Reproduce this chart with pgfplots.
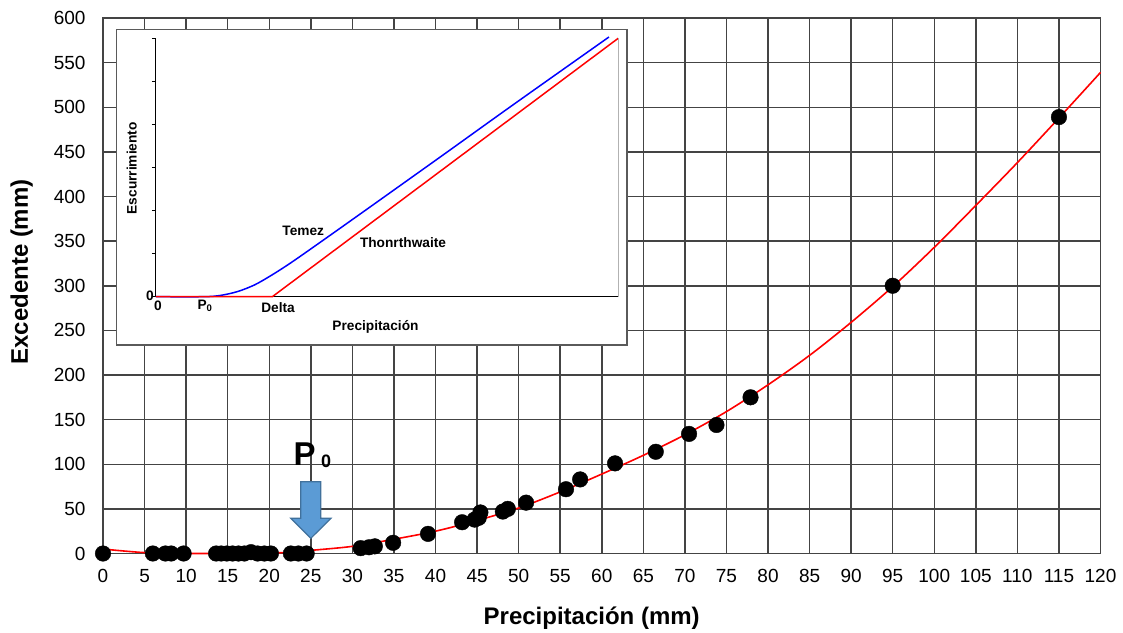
\documentclass[border=0pt]{standalone}
\usepackage{pgfplots}
\pgfplotsset{compat=1.18}
\usepackage{fontspec}
\setmainfont{Liberation Sans}
\definecolor{gridc}{RGB}{68,68,68}
\definecolor{arrfill}{RGB}{91,155,213}
\definecolor{arrdraw}{RGB}{65,113,156}
\definecolor{insetb}{RGB}{90,90,90}

\pgfplotstableread{
x y
0 0
6.0 0
7.5 0
8.2 0
9.7 0
13.6 0
14.2 0
14.9 0
15.6 0
16.3 0
17.0 0
17.8 1.5
18.6 0
19.4 0
20.2 0
22.6 0
23.5 0
24.5 0
31.0 6
32.0 7
32.7 8
34.9 12
39.1 22
43.2 35
44.7 38
45.2 40
45.4 46
48.1 47
48.7 50
50.9 57
55.7 72
57.4 83
61.6 101
66.5 114
70.5 134
73.8 144
77.9 175
95.0 300
115.0 489
}\obsdata

\pgfplotstableread{
x y
0 5
2.5 2.8
5 1.0
7.5 0.3
10 0
15 0
20 0.4
22.5 1.5
25 3.5
30 8
35 16
40 25
45 37
50 51
55 69
60 89
65 110
70 133
75 159
80 189
85 222
90 259
95 299
100 343
105 390
110 438
115 488
120 539
}\fitdata

\begin{document}
\begin{tikzpicture}
\useasboundingbox (0,0) rectangle (1123pt,632pt);
\begin{axis}[
  at={(103pt,78.5pt)}, anchor=south west,
  scale only axis, width=997.5pt, height=535.5pt,
  xmin=0, xmax=120, ymin=0, ymax=600,
  xtick={0,5,...,120}, ytick={0,50,...,600},
  grid=major,
  major grid style={line width=1.5pt, color=gridc},
  axis line style={line width=1.5pt, color=gridc},
  tick style={draw=none},
  ticklabel style={font=\fontsize{19}{19}\selectfont},
  /pgf/number format/assume math mode=true,
  xticklabel style={yshift=-12pt},
  yticklabel style={xshift=-14pt},
  clip=false,
]
\addplot[only marks, mark=*, mark size=7.8pt, black] table[x=x,y=y] {\obsdata};
\addplot[red, line width=1.6pt, smooth, tension=0.5] table[x=x,y=y] {\fitdata};
\end{axis}

% axis titles
\node[font=\bfseries\fontsize{24}{24}\selectfont] at (591.7pt,14pt) {Precipitación (mm)};
\node[rotate=90, font=\bfseries\fontsize{24}{24}\selectfont] at (21.7pt,360pt) {Excedente (mm)};

% P0 arrow
\draw[fill=arrfill, draw=arrdraw, line width=1.2pt]
  (300.7pt,150.3pt) -- (320.7pt,150.3pt) -- (320.7pt,113.7pt) -- (331pt,113.7pt)
  -- (310.8pt,93.7pt) -- (290.7pt,113.7pt) -- (300.7pt,113.7pt) -- cycle;
\node[anchor=base west, inner sep=0pt, font=\bfseries\fontsize{33}{33}\selectfont] at (293.5pt,167pt) {P};
\node[anchor=base west, inner sep=0pt, font=\bfseries\fontsize{18}{18}\selectfont] at (321pt,165pt) {0};

% inset
\draw[fill=white, draw=insetb, line width=1.5pt] (116.5pt,287pt) rectangle (626.9pt,602.7pt);
\begin{axis}[
  at={(155.8pt,335.3pt)}, anchor=south west,
  scale only axis, width=462.4pt, height=258.4pt,
  xmin=0, xmax=100, ymin=0, ymax=100,
  axis x line*=bottom, axis y line*=left,
  axis line style={line width=1.2pt, black, -},
  xtick=\empty,
  ytick={0,16.667,33.333,50,66.667,83.333,100},
  yticklabels={},
  tick align=outside, major tick length=4pt,
  y tick style={line width=1pt, black},
  clip=false,
]
\addplot[blue, line width=1.5pt, smooth, tension=0.5] coordinates {
 (0,0) (10.3,0) (14.0,0.5) (17.7,2.0) (21.4,4.6) (25.2,8.5) (29.6,13.6)
 (37.1,23.0) (47.5,36.2) (62.4,55.2) (77.3,74.3) (98.0,100.5)};
\addplot[red, line width=1.5pt] coordinates {(0,0) (25.2,0) (100,100)};
\draw[gray!60, line width=1.2pt] (axis cs:100,0) -- (axis cs:100,100);
\end{axis}

\begin{scope}[font=\bfseries\fontsize{13.7}{14}\selectfont]
\node[rotate=90] at (131.7pt,463.7pt) {Escurrimiento};
\node at (303.2pt,401pt) {Temez};
\node at (403pt,389.7pt) {Thonrthwaite};
\node at (375.5pt,305.3pt) {Precipitación};
\node at (150pt,336.7pt) {0};
\node at (157.9pt,326pt) {0};
\node at (205pt,326pt) {P\textsubscript{0}};
\node at (278pt,324.7pt) {Delta};
\end{scope}
\end{tikzpicture}
\end{document}
